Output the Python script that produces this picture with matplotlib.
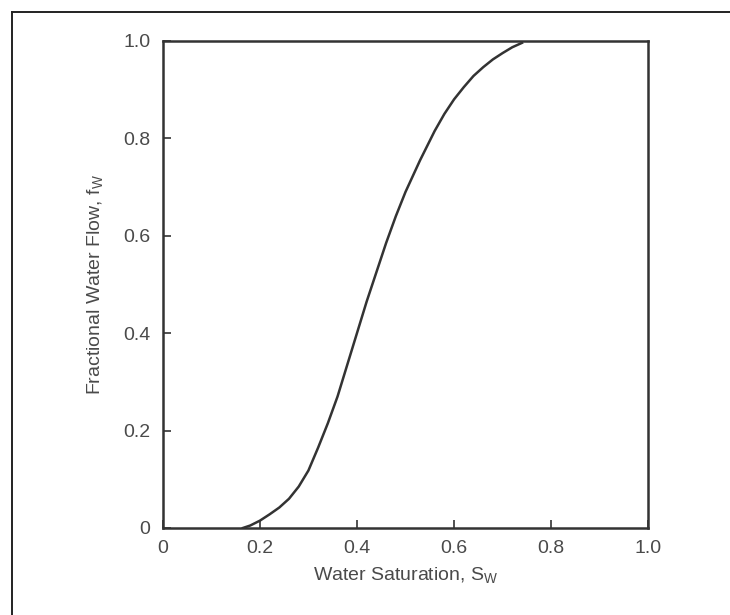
import numpy as np
import matplotlib.pyplot as plt
from matplotlib.lines import Line2D

# =====================
# DATA
# =====================
sw = [0.165, 0.18, 0.20, 0.22, 0.24, 0.26, 0.28, 0.30, 0.32, 0.34,
      0.36, 0.38, 0.40, 0.42, 0.44, 0.46, 0.48, 0.50, 0.53, 0.56,
      0.58, 0.60, 0.62, 0.64, 0.66, 0.68, 0.70, 0.72, 0.74]
fw = [0.0, 0.005, 0.015, 0.028, 0.042, 0.06, 0.085, 0.118, 0.165, 0.215,
      0.27, 0.335, 0.40, 0.465, 0.525, 0.585, 0.64, 0.69, 0.755, 0.815,
      0.85, 0.88, 0.905, 0.928, 0.946, 0.962, 0.975, 0.987, 0.996]

x_ticks = [0, 0.2, 0.4, 0.6, 0.8, 1.0]
x_labels = ["0", "0.2", "0.4", "0.6", "0.8", "1.0"]
y_ticks = [0, 0.2, 0.4, 0.6, 0.8, 1.0]
y_labels = ["0", "0.2", "0.4", "0.6", "0.8", "1.0"]

# =====================
# STYLE
# =====================
plt.rcParams.update({
    "font.family": "Liberation Sans",
    "font.size": 14,
})
ink = "#333333"
txt = "#4a4a4a"

fig = plt.figure(figsize=(7.3, 6.15), dpi=100)
ax = fig.add_axes([0.223, 0.1415, 0.665, 0.792])

ax.plot(sw, fw, color=ink, lw=1.8, solid_joinstyle="round")

ax.set_xlim(0, 1)
ax.set_ylim(0, 1)
ax.set_xticks(x_ticks)
ax.set_xticklabels(x_labels)
ax.set_yticks(y_ticks)
ax.set_yticklabels(y_labels)
ax.tick_params(direction="in", length=6, width=1.2, color=ink,
               labelcolor=txt, labelsize=14, pad=9)

for s in ax.spines.values():
    s.set_color(ink)
    s.set_linewidth(1.8)

ax.set_xlabel(r"Water Saturation, S$_\mathregular{W}$", color=txt, fontsize=14, labelpad=6)
ax.set_ylabel(r"Fractional Water Flow, f$_\mathregular{W}$", color=txt, fontsize=14, labelpad=12)

# scanned page frame (top and left edges)
fig.add_artist(Line2D([12 / 730, 1.0], [1 - 12 / 615, 1 - 12 / 615],
                      transform=fig.transFigure, color="#222222", lw=1.4))
fig.add_artist(Line2D([12 / 730, 12 / 730], [0.0, 1 - 12 / 615],
                      transform=fig.transFigure, color="#222222", lw=1.4))

fig.savefig("out.png", dpi=100)
